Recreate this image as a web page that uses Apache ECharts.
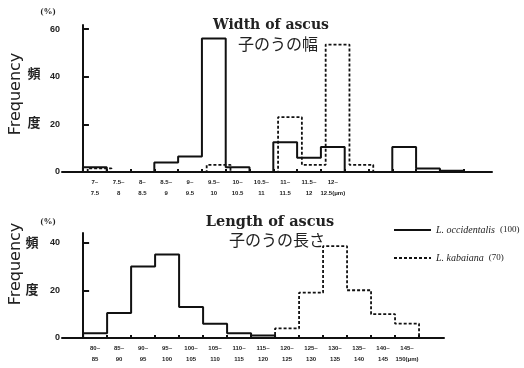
<!DOCTYPE html>
<html>
<head>
<meta charset="utf-8">
<script src="https://cdn.jsdelivr.net/npm/echarts@6/dist/echarts.min.js"></script>
<style>
html, body { margin: 0; padding: 0; background: #fff; }
#main { width: 524px; height: 368px; }
</style>
</head>
<body>
<div id="main"></div>
<script>
// 子のうの幅 (width of ascus), 0.5μm bins starting at 7μm
var widthLow = ['7~', '7.5~', '8~', '8.5~', '9~', '9.5~', '10~', '10.5~', '11~', '11.5~', '12~'];
var widthHigh = ['7.5', '8', '8.5', '9', '9.5', '10', '10.5', '11', '11.5', '12', '12.5(μm)'];
var widthOcc = [2, 0, 0, 4, 6.5, 56, 2, 0, 12.5, 6, 10.5, 0, 0, 10.5, 1.5, 0.5];
var widthKab = [1.5, 0, 0, 0, 0, 3, 0, 0, 23, 3, 53.5, 3, 0, 0, 0, 0];

// 子のうの長さ (length of ascus), 5μm bins starting at 80μm
var lengthLow = ['80~', '85~', '90~', '95~', '100~', '105~', '110~', '115~', '120~', '125~', '130~', '135~', '140~', '145~'];
var lengthHigh = ['85', '90', '95', '100', '105', '110', '115', '120', '125', '130', '135', '140', '145', '150(μm)'];
var lengthOcc = [2, 10.5, 30, 35, 13, 6, 2, 1, 0, 0, 0, 0, 0, 0];
var lengthKab = [0, 0, 0, 0, 0, 0, 0, 0, 4, 19, 38.5, 20, 10, 6];

var yTicksWidth = [0, 20, 40, 60];
var yTicksLength = [0, 20, 40];

var OCC = 'L. occidentalis (100)';
var KAB = 'L. kabaiana (70)';

// step outline of a histogram, bin i covers [i, i+1]
function steps(vals, shift) {
    var pts = [[shift, 0]];
    vals.forEach(function (v, i) {
        pts.push([i + shift, v], [i + 1 + shift, v]);
    });
    pts.push([vals.length + shift, 0]);
    return pts;
}
function centers(n) {
    var a = [];
    for (var i = 0; i < n; i++) a.push(i + 0.5);
    return a;
}
function edges(n) {
    var a = [];
    for (var i = 1; i <= n; i++) a.push(i);
    return a;
}

function xAxisOf(idx, max, low, high, nTicks) {
    return {
        type: 'value', gridIndex: idx, min: -0.88, max: max,
        axisLine: { lineStyle: { color: '#111', width: 2 } },
        axisTick: { customValues: edges(nTicks), inside: true, length: 3, lineStyle: { color: '#111', width: 2 } },
        splitLine: { show: false },
        axisLabel: {
            customValues: centers(low.length),
            margin: 5,
            fontSize: 6, fontWeight: 'bold', color: '#222', lineHeight: 11,
            fontFamily: 'Liberation Sans',
            formatter: function (v) {
                var i = Math.round(v - 0.5);
                return low[i] + '\n' + high[i];
            }
        }
    };
}
function yAxisOf(idx, max, ticks) {
    return {
        type: 'value', gridIndex: idx, min: 0, max: max,
        axisLine: { show: true, lineStyle: { color: '#111', width: 2 } },
        axisTick: { show: true, customValues: ticks, inside: true, length: 6, lineStyle: { color: '#111', width: 2 } },
        splitLine: { show: false },
        axisLabel: {
            customValues: ticks, margin: 2,
            fontSize: 9, fontWeight: 'bold', color: '#222', fontFamily: 'Liberation Sans'
        }
    };
}
function lineSeries(name, idx, pts, dashed) {
    return {
        name: name, type: 'line', xAxisIndex: idx, yAxisIndex: idx,
        data: pts, symbol: 'none', showSymbol: false, silent: true,
        itemStyle: { color: '#111' },
        lineStyle: { color: '#111', width: dashed ? 1.8 : 2, type: dashed ? [3, 2] : 'solid' }
    };
}

function txt(x, y, text, size, opts) {
    opts = opts || {};
    return {
        type: 'text', x: x, y: y, rotation: opts.rotation || 0,
        style: {
            text: text, align: 'center', verticalAlign: 'middle',
            fill: '#222', fontSize: size,
            fontFamily: opts.family || 'Noto Sans CJK JP',
            fontWeight: opts.weight || 'normal'
        }
    };
}

var chart = echarts.init(document.getElementById('main'));
chart.setOption({
    animation: false,
    grid: [
        { left: 62, top: 25, width: 430, height: 147 },
        { left: 62, top: 233, width: 382, height: 105 }
    ],
    xAxis: [
        xAxisOf(0, 17.19, widthLow, widthHigh, widthOcc.length),
        xAxisOf(1, 15.04, lengthLow, lengthHigh, lengthOcc.length)
    ],
    yAxis: [
        yAxisOf(0, 61.7, yTicksWidth),
        yAxisOf(1, 44, yTicksLength)
    ],
    legend: {
        orient: 'vertical', left: 393, top: 225, padding: 0,
        itemWidth: 37, itemHeight: 10, itemGap: 18,
        data: [OCC, KAB],
        itemStyle: { color: 'rgba(0,0,0,0)', borderWidth: 0 },
        textStyle: {
            fontSize: 10, color: '#222', fontFamily: 'Liberation Serif',
            rich: {
                i: { fontStyle: 'italic', fontSize: 10, fontFamily: 'Liberation Serif', color: '#222' },
                n: { fontSize: 9, fontFamily: 'Liberation Serif', color: '#222' }
            }
        },
        formatter: function (name) {
            var k = name.indexOf(' (');
            return '{i|' + name.slice(0, k) + '}  {n|' + name.slice(k + 1) + '}';
        }
    },
    series: [
        lineSeries(OCC, 0, steps(widthOcc, 0), false),
        lineSeries(KAB, 0, steps(widthKab, 0.2), true),
        lineSeries(OCC, 1, steps(lengthOcc, 0), false),
        lineSeries(KAB, 1, steps(lengthKab, 0), true)
    ],
    graphic: [
        txt(271, 25, 'Width of ascus', 14, { family: 'DejaVu Serif', weight: 'bold' }),
        txt(278, 44, '子のうの幅', 16),
        txt(270, 222, 'Length of ascus', 14.5, { family: 'DejaVu Serif', weight: 'bold' }),
        txt(277, 240, '子のうの長さ', 16),
        txt(48, 12, '(%)', 9, { family: 'Liberation Serif', weight: 'bold' }),
        txt(48, 222, '(%)', 9, { family: 'Liberation Serif', weight: 'bold' }),
        txt(16, 94, 'Frequency', 16, { family: 'DejaVu Sans', rotation: Math.PI / 2 }),
        txt(16, 264, 'Frequency', 16, { family: 'DejaVu Sans', rotation: Math.PI / 2 }),
        txt(34, 73, '頻', 13, { weight: 'bold' }),
        txt(34, 122, '度', 13, { weight: 'bold' }),
        txt(32, 242, '頻', 13, { weight: 'bold' }),
        txt(32, 289, '度', 13, { weight: 'bold' })
    ]
});
</script>
</body>
</html>
